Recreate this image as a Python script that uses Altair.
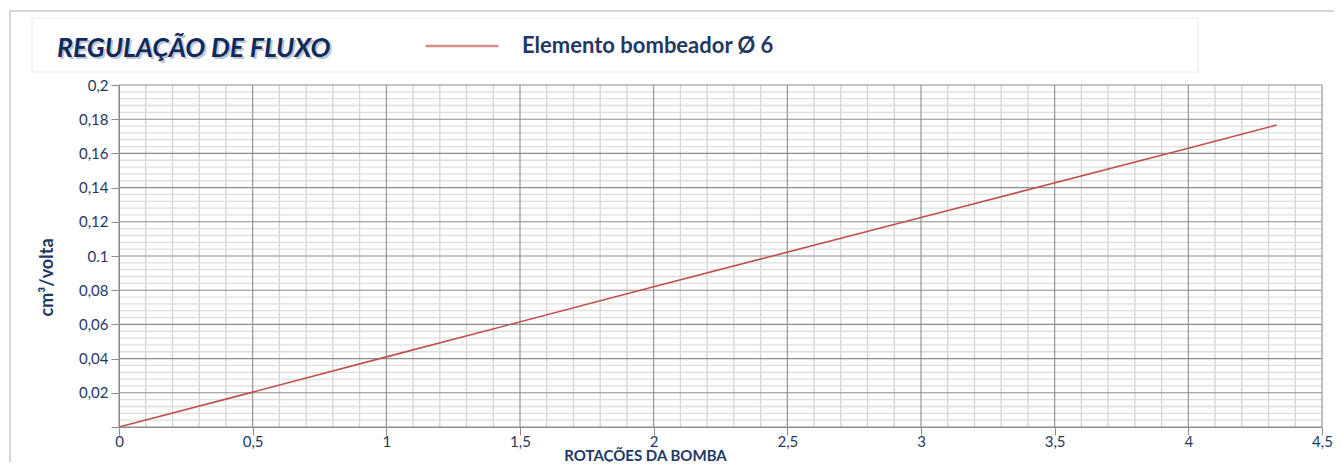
import altair as alt
import pandas as pd

# data
rotations = [0, 0.5, 1, 2, 3, 4, 4.33]
flow = [0, 0.0204, 0.041, 0.082, 0.1225, 0.163, 0.1766]
series_name = "Elemento bombeador Ø 6"

x_major = [0, 0.5, 1, 1.5, 2, 2.5, 3, 3.5, 4, 4.5]
x_minor = [round(i * 0.1, 2) for i in range(46) if i % 5 != 0]
y_major = [0, 0.02, 0.04, 0.06, 0.08, 0.1, 0.12, 0.14, 0.16, 0.18, 0.2]
y_minor = [round(i * 0.004, 3) for i in range(51) if i % 5 != 0]

NAVY = "#1f3864"
FONT = "Lato"

df = pd.DataFrame({"x": rotations, "y": flow, "s": [series_name] * len(rotations)})
xs = alt.Scale(domain=[0, 4.5], nice=False)
ys = alt.Scale(domain=[0, 0.2], nice=False)

W, H = 1203, 342

x_axis = alt.Axis(
    values=x_major,
    grid=False,
    zindex=2,
    title="ROTAÇÕES DA BOMBA",
    titleX=526,
    titleY=33,
    titleBaseline="alphabetic",
    titleFont=FONT,
    titleFontSize=15,
    titleFontWeight="bold",
    titleColor=NAVY,
    labelExpr="replace(format(datum.value, '.1~f'), '.', ',')",
    labelFont=FONT,
    labelFontSize=15,
    labelColor=NAVY,
    labelPadding=-1,
    tickColor="#8c8c8c",
    tickSize=8,
    domainColor="#8c8c8c",
    labelFlush=False,
)

y_axis = alt.Axis(
    values=y_major,
    grid=False,
    zindex=2,
    title="cm³/volta",
    titleX=-72,
    titleY=192,
    titleAngle=270,
    titleBaseline="middle",
    titleAlign="center",
    titleFont=FONT,
    titleFontSize=18,
    titleFontWeight="bold",
    titleColor=NAVY,
    labelExpr="datum.value == 0 ? '' : (abs(datum.value - 0.1) < 1e-9 ? '0.1' : replace(format(datum.value, '.2~f'), '.', ','))",
    labelFont=FONT,
    labelFontSize=15,
    labelColor=NAVY,
    labelPadding=3,
    tickColor="#8c8c8c",
    tickSize=8,
    domainColor="#8c8c8c",
)

frame = alt.Chart(pd.DataFrame({"a": [0]})).mark_rect(
    fill="white", stroke="#c8c8c8", strokeWidth=1.5
).encode(x=alt.value(-109), x2=alt.value(1300), y=alt.value(-74), y2=alt.value(500))

header = alt.Chart(pd.DataFrame({"a": [0]})).mark_rect(
    fill="white", stroke="#ececec", strokeWidth=1.2
).encode(x=alt.value(-87), x2=alt.value(1079), y=alt.value(-67), y2=alt.value(-13))

minor_x = alt.Chart(pd.DataFrame({"x": x_minor})).mark_rule(
    color="#d4d4d4", strokeWidth=1.3
).encode(x=alt.X("x:Q", scale=xs, axis=x_axis))

minor_y = alt.Chart(pd.DataFrame({"y": y_minor})).mark_rule(
    color="#dedede", strokeWidth=1.3
).encode(y=alt.Y("y:Q", scale=ys, axis=y_axis))

major_x = alt.Chart(pd.DataFrame({"x": x_major})).mark_rule(
    color="#8c8c8c", strokeWidth=1.1
).encode(x=alt.X("x:Q", scale=xs, axis=x_axis))

major_y = alt.Chart(pd.DataFrame({"y": y_major})).mark_rule(
    color="#8c8c8c", strokeWidth=1.1
).encode(y=alt.Y("y:Q", scale=ys, axis=y_axis))

line = alt.Chart(df).mark_line(strokeWidth=1.6).encode(
    x=alt.X("x:Q", scale=xs, axis=x_axis),
    y=alt.Y("y:Q", scale=ys, axis=y_axis),
    color=alt.Color(
        "s:N",
        scale=alt.Scale(range=["#c0504d"]),
        legend=alt.Legend(
            title=None,
            orient="none",
            legendX=305,
            legendY=-77,
            zindex=2,
            symbolType="stroke",
            symbolSize=5329,
            symbolStrokeWidth=2.5,
            symbolOpacity=0.65,
            labelFont=FONT,
            labelFontSize=22,
            labelFontWeight="bold",
            labelColor=NAVY,
            labelOffset=22,
            labelLimit=400,
        ),
    ),
)

title_shadow = alt.Chart(pd.DataFrame({"t": ["REGULAÇÃO DE FLUXO"]})).mark_text(
    align="left", baseline="alphabetic", font=FONT, fontSize=26.5,
    fontWeight="bold", fontStyle="italic", color="#9aa0aa", opacity=0.6
).encode(text="t:N", x=alt.value(-60), y=alt.value(-26))

title = alt.Chart(pd.DataFrame({"t": ["REGULAÇÃO DE FLUXO"]})).mark_text(
    align="left", baseline="alphabetic", font=FONT, fontSize=26.5,
    fontWeight="bold", fontStyle="italic", color="#0e2a5e"
).encode(text="t:N", x=alt.value(-62), y=alt.value(-28))

chart = alt.layer(
    frame, header, minor_x, minor_y, major_x, major_y, line, title_shadow, title
).properties(
    width=W,
    height=H,
    autosize=alt.AutoSizeParams(type="none"),
    padding={"left": 111, "top": 77, "right": 12, "bottom": 35},
).configure_view(stroke=None)

chart.save("out.html", embed_options={"renderer": "svg", "actions": False})
